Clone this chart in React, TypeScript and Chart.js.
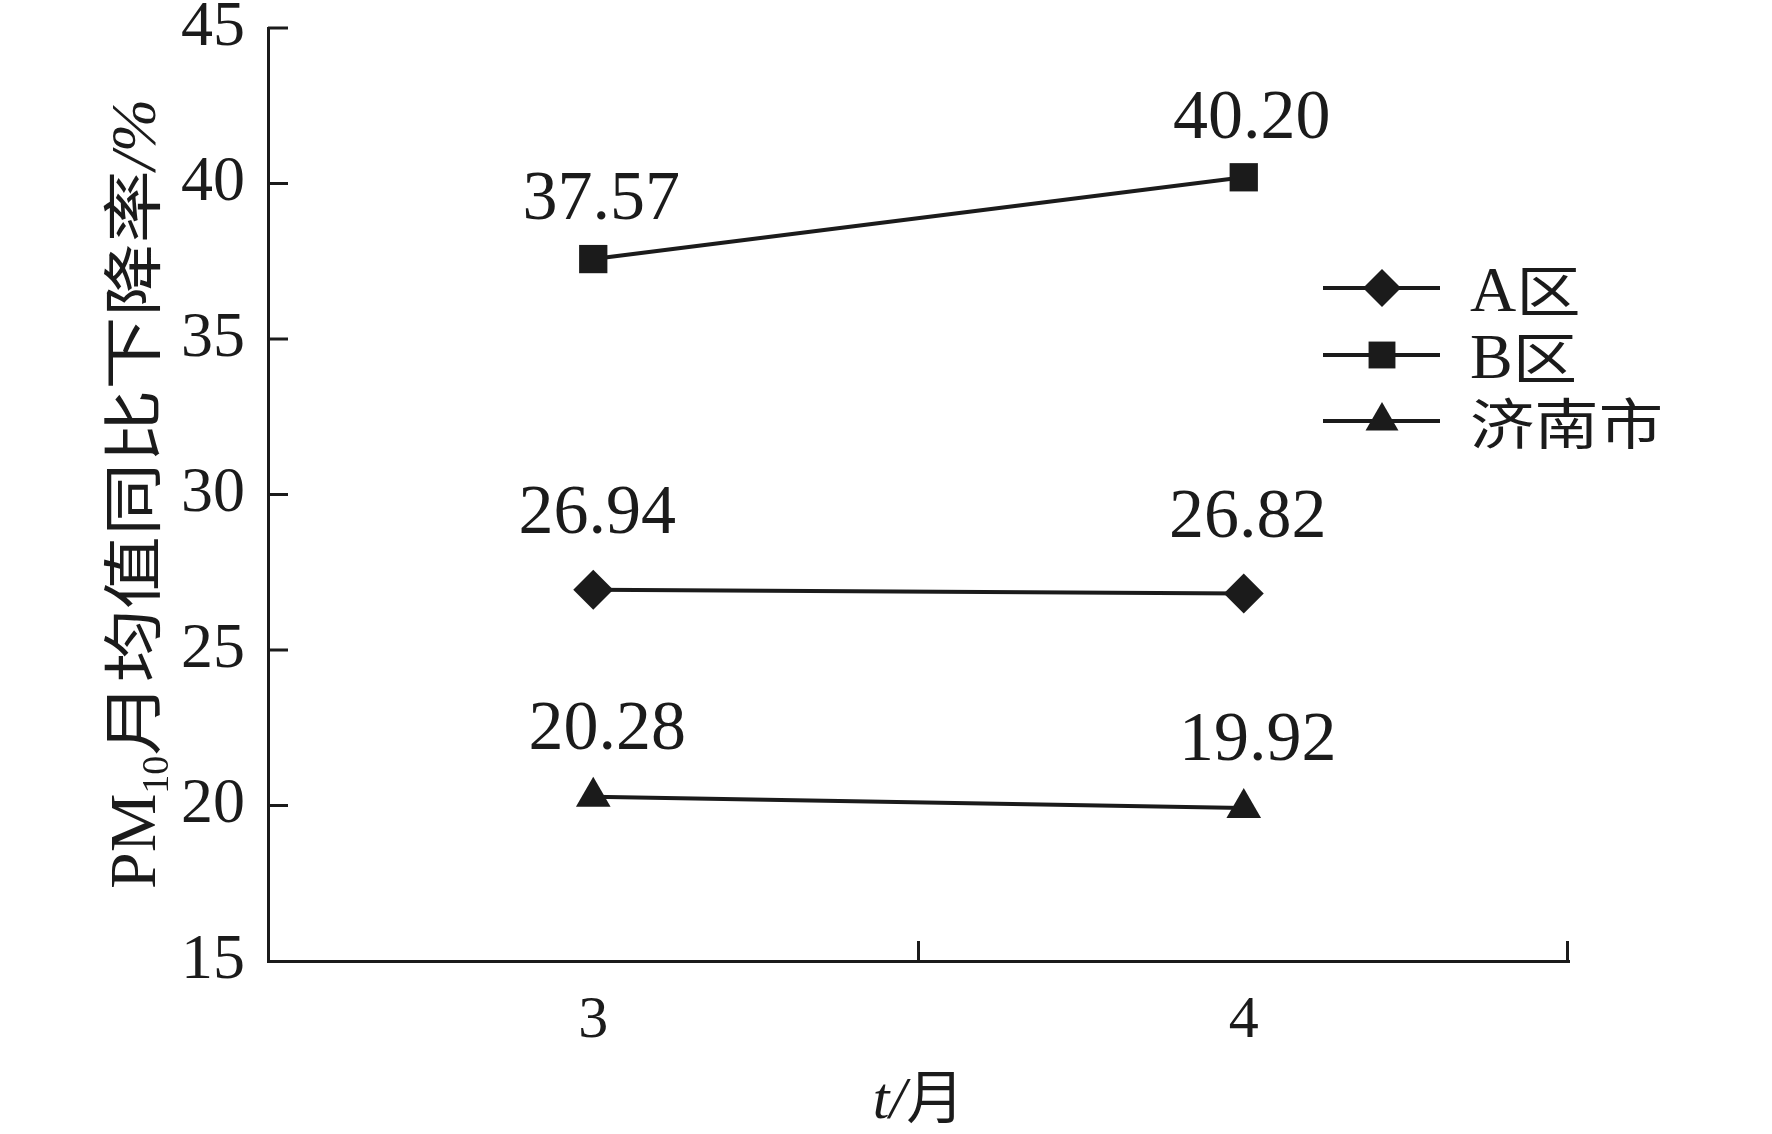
import React, { useEffect, useRef } from 'react';
import { Chart, registerables } from 'chart.js';

Chart.register(...registerables);

// ---- data ----
const months = ['3', '4'];
const seriesNames = ['A区', 'B区', '济南市'];
const seriesA = [26.94, 26.82];
const seriesB = [37.57, 40.2];
const seriesJinan = [20.28, 19.92];
const yMin = 15;
const yMax = 45;
const yStep = 5;

// ---- styles ----
const INK = '#1b1b1b';
const SERIF = '"Liberation Serif", "Times New Roman", serif';
const CJK = '"Noto Sans CJK SC", "Noto Sans CJK JP", sans-serif';
const pointStyles = ['rectRot', 'rect', 'triangle'];
const labelDy = [75, 58, 66];
const labelDx = [4, 8, 14];

type Seg = { text: string; font: string; dy?: number; sx?: number };

function drawSegs(ctx: CanvasRenderingContext2D, segs: Seg[], cx: number, baseline: number, align: 'center' | 'left' = 'center') {
  let total = 0;
  const widths = segs.map((s) => {
    ctx.font = s.font;
    const w = ctx.measureText(s.text).width * (s.sx || 1);
    total += w;
    return w;
  });
  let x = align === 'center' ? cx - total / 2 : cx;
  ctx.textAlign = 'left';
  ctx.textBaseline = 'alphabetic';
  segs.forEach((s, i) => {
    ctx.font = s.font;
    ctx.save();
    ctx.translate(x, baseline + (s.dy || 0));
    ctx.scale(s.sx || 1, 1);
    ctx.fillText(s.text, 0, 0);
    ctx.restore();
    x += widths[i];
  });
}

function drawMarker(ctx: CanvasRenderingContext2D, style: string, x: number, y: number, r: number) {
  ctx.beginPath();
  if (style === 'rectRot') {
    ctx.moveTo(x - r, y);
    ctx.lineTo(x, y - r);
    ctx.lineTo(x + r, y);
    ctx.lineTo(x, y + r);
  } else if (style === 'rect') {
    const s = Math.SQRT1_2 * r;
    ctx.rect(x - s, y - s, 2 * s, 2 * s);
  } else {
    let a = 0;
    ctx.moveTo(x + Math.sin(a) * r, y - Math.cos(a) * r);
    a += (2 * Math.PI) / 3;
    ctx.lineTo(x + Math.sin(a) * r, y - Math.cos(a) * r);
    a += (2 * Math.PI) / 3;
    ctx.lineTo(x + Math.sin(a) * r, y - Math.cos(a) * r);
  }
  ctx.closePath();
  ctx.fill();
}

const decorPlugin = {
  id: 'decor',
  afterDatasetsDraw(chart: any) {
    const ctx: CanvasRenderingContext2D = chart.ctx;
    ctx.save();
    ctx.fillStyle = INK;
    ctx.font = `70px ${SERIF}`;
    ctx.textAlign = 'center';
    ctx.textBaseline = 'middle';
    chart.data.datasets.forEach((ds: any, di: number) => {
      const meta = chart.getDatasetMeta(di);
      meta.data.forEach((pt: any, i: number) => {
        const v = ds.data[i] as number;
        ctx.fillText(v.toFixed(2), pt.x + labelDx[di], pt.y - labelDy[di]);
      });
    });
    ctx.restore();
  },
  afterDraw(chart: any) {
    const ctx: CanvasRenderingContext2D = chart.ctx;
    const area = chart.chartArea;
    const xs = chart.scales.x;
    const ys = chart.scales.y;
    ctx.save();
    ctx.strokeStyle = INK;
    ctx.fillStyle = INK;
    ctx.lineWidth = 3;
    // inward y ticks
    ys.ticks.forEach((t: any) => {
      const py = ys.getPixelForValue(t.value);
      if (Math.abs(py - area.bottom) < 2) return;
      ctx.beginPath();
      ctx.moveTo(area.left, py);
      ctx.lineTo(area.left + 20, py);
      ctx.stroke();
    });
    // inward x ticks at category boundaries
    const n = xs.ticks.length;
    const step = n > 1 ? xs.getPixelForTick(1) - xs.getPixelForTick(0) : area.right - area.left;
    for (let i = 0; i < n; i++) {
      const px = Math.min(xs.getPixelForTick(i) + step / 2, area.right - 1.5);
      ctx.beginPath();
      ctx.moveTo(px, area.bottom);
      ctx.lineTo(px, area.bottom - 20);
      ctx.stroke();
    }

    // legend
    const legendY = [288, 355, 421];
    chart.data.datasets.forEach((ds: any, di: number) => {
      const ly = legendY[di];
      ctx.lineWidth = 4;
      ctx.beginPath();
      ctx.moveTo(1323, ly);
      ctx.lineTo(1440, ly);
      ctx.stroke();
      drawMarker(ctx, pointStyles[di], 1382, ly, 19);
      const label: string = ds.label;
      const segs: Seg[] = [];
      for (const ch of label) {
        const isLatin = /[A-Za-z0-9]/.test(ch);
        segs.push(isLatin ? { text: ch, font: `64px ${SERIF}` } : { text: ch, font: `55px ${CJK}`, sx: 1.17 });
      }
      drawSegs(ctx, segs, 1470, ly + 23, 'left');
    });

    // y-axis title (rotated)
    ctx.save();
    ctx.translate(136, 494);
    ctx.rotate(-Math.PI / 2);
    drawSegs(
      ctx,
      [
        { text: 'PM', font: `66px ${SERIF}` },
        { text: '10', font: `38px ${SERIF}`, dy: 13 },
        { text: '月均值同比下降率', font: `60px ${CJK}`, sx: 1.22 },
        { text: '/%', font: `italic 64px ${SERIF}` },
      ],
      0,
      19
    );
    ctx.restore();

    // x-axis title
    drawSegs(
      ctx,
      [
        { text: 't', font: `italic 60px ${SERIF}` },
        { text: '/', font: `italic 60px ${SERIF}` },
        { text: '月', font: `58px ${CJK}` },
      ],
      (area.left + area.right) / 2,
      1118
    );
    ctx.restore();
  },
};

export default function App() {
  const ref = useRef<HTMLCanvasElement | null>(null);

  useEffect(() => {
    if (!ref.current) return;
    const seriesValues = [seriesA, seriesB, seriesJinan];
    const chart = new Chart(ref.current, {
      type: 'line',
      data: {
        labels: months,
        datasets: seriesValues.map((vals, i) => ({
          label: seriesNames[i],
          data: vals,
          borderColor: INK,
          backgroundColor: INK,
          borderWidth: 4,
          tension: 0,
          pointStyle: pointStyles[i] as any,
          pointRadius: 20,
          pointBackgroundColor: INK,
          pointBorderWidth: 0,
          pointHoverRadius: 20,
        })),
      },
      options: {
        animation: false,
        responsive: false,
        devicePixelRatio: 1,
        layout: { padding: { left: 0, top: 28, right: 203, bottom: 0 } },
        plugins: {
          legend: { display: false },
          tooltip: { enabled: false },
          title: { display: false },
        },
        scales: {
          x: {
            type: 'category',
            offset: true,
            grid: { display: true, drawOnChartArea: false, drawTicks: false },
            border: { display: true, color: INK, width: 3 },
            ticks: {
              color: INK,
              font: { family: SERIF, size: 60 },
              padding: 24,
              maxRotation: 0,
            },
            afterFit: (s: any) => {
              s.height = 173;
              s.paddingLeft = 0;
              s.paddingRight = 0;
            },
          },
          y: {
            min: yMin,
            max: yMax,
            grid: { display: true, drawOnChartArea: false, drawTicks: false },
            border: { display: true, color: INK, width: 3 },
            ticks: {
              stepSize: yStep,
              color: INK,
              font: { family: SERIF, size: 64 },
              padding: 23,
            },
            afterFit: (s: any) => {
              s.width = 268;
              s.paddingTop = 0;
              s.paddingBottom = 0;
            },
          },
        },
      },
      plugins: [decorPlugin],
    });
    return () => chart.destroy();
  }, []);

  return (
    <div style={{ position: 'absolute', left: 0, top: 0, width: 1772, height: 1134, background: '#fff' }}>
      <canvas ref={ref} width={1772} height={1134} style={{ width: 1772, height: 1134 }} />
    </div>
  );
}
